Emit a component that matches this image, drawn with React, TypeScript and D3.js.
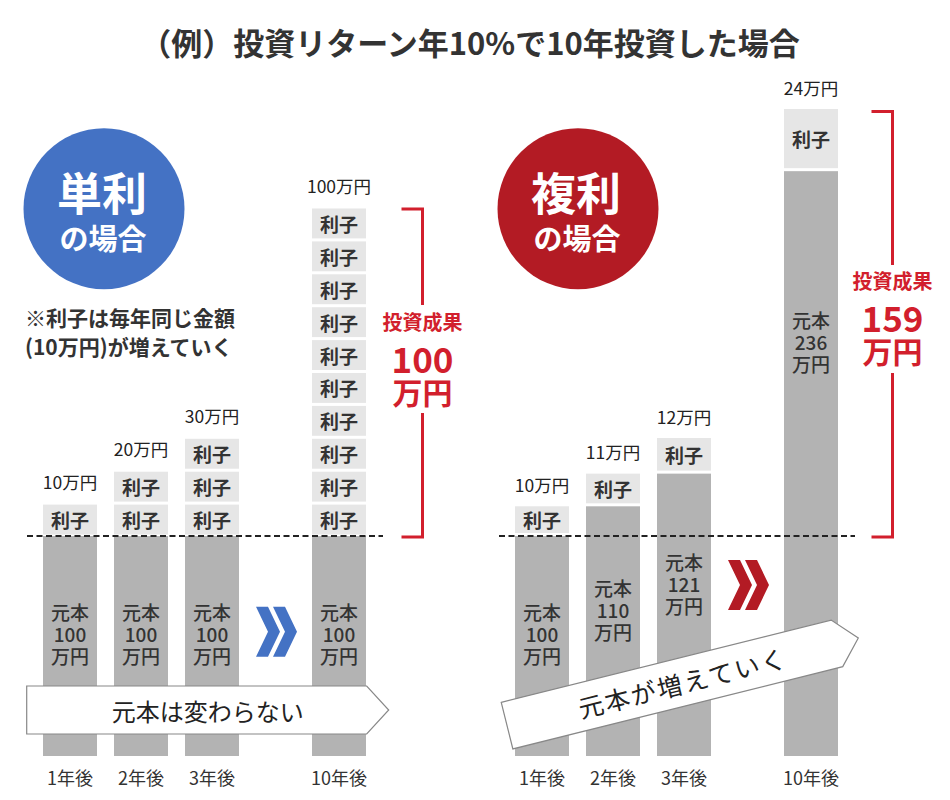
import React from "react";
import * as d3 from "d3";

// ---- data ----
const title = "（例）投資リターン年10%で10年投資した場合";
const yearIndex = [1, 2, 3, 10];
const yearLabels = ["1年後", "2年後", "3年後", "10年後"];
const simplePrincipal = [100, 100, 100, 100];
const simpleInterest = [10, 20, 30, 100];
const compoundPrincipal = [100, 110, 121, 236];
const compoundInterest = [10, 11, 12, 24];
const interestUnit = 10;
const simpleGain = 100;
const compoundGain = 159;
const simpleNote = ["※利子は毎年同じ金額", "(10万円)が増えていく"];
const simpleTitle = ["単利", "の場合"];
const compoundTitle = ["複利", "の場合"];
const simpleArrowText = "元本は変わらない";
const compoundArrowText = "元本が増えていく";

// ---- style ----
const FONT = "'Noto Sans CJK JP', 'Noto Sans', sans-serif";
const BLUE = "#4472c4";
const DARKRED = "#b31b24";
const RED = "#d21f2d";
const LIGHT = "#e6e6e6";
const GRAY = "#b3b3b3";
const TXT = "#333";

const W = 950;
const H = 800;
const barW = 54;

const xSimple = d3.scaleLinear().domain([1, 3, 10]).range([70, 212, 339]);
const xCompound = d3.scaleLinear().domain([1, 3, 10]).range([542, 684, 811]);
const ySimple = d3.scaleLinear().domain([0, 100, 200]).range([756, 536, 207]);
const yCompound = d3.scaleLinear().domain([0, 100, 133, 260]).range([756, 536, 438, 109]);

const arrowPath = (w: number, h: number, tip: number) =>
  `M${-w / 2},${-h / 2}L${w / 2},${-h / 2}L${w / 2 + tip},0L${w / 2},${h / 2}L${-w / 2},${h / 2}Z`;

function Chevrons({ cx, cy, color }: { cx: number; cy: number; color: string }) {
  const h = 50, t = 12, d = 12, step = 17;
  const total = step + t + d;
  return (
    <g>
      {[0, 1].map((i) => {
        const ox = cx - total / 2 + i * step;
        const pts = [
          [ox, cy - h / 2],
          [ox + t, cy - h / 2],
          [ox + t + d, cy],
          [ox + t, cy + h / 2],
          [ox, cy + h / 2],
          [ox + d, cy],
        ];
        return <polygon key={i} points={pts.map((p) => p.join(",")).join(" ")} fill={color} />;
      })}
    </g>
  );
}

function PrincipalLabel({ x, top, value }: { x: number; top: number; value: number }) {
  const h = 756 - top;
  const cy = top + 0.2 * h + 53;
  const lines = ["元本", String(value), "万円"];
  return (
    <g>
      {lines.map((s, i) => (
        <text key={i} x={x} y={cy + (i - 1) * 22} textAnchor="middle" dominantBaseline="central"
          fontSize={19} fontWeight={500} fill={TXT} fontFamily={FONT}>{s}</text>
      ))}
    </g>
  );
}

function InterestBox({ x, y0, y1 }: { x: number; y0: number; y1: number }) {
  return (
    <g>
      <rect x={x - barW / 2} y={y0} width={barW} height={y1 - y0} fill={LIGHT} />
      <text x={x} y={(y0 + y1) / 2} textAnchor="middle" dominantBaseline="central"
        fontSize={19} fontWeight={700} fill={TXT} fontFamily={FONT}>利子</text>
    </g>
  );
}

function Bracket({ x, top, bottom, gapTop, gapBottom, textY, gain }: any) {
  const arm = 21;
  return (
    <g>
      <path d={`M${x - arm},${top}H${x}V${gapTop}`} fill="none" stroke={RED} strokeWidth={3} />
      <path d={`M${x},${gapBottom}V${bottom}H${x - arm}`} fill="none" stroke={RED} strokeWidth={3} />
      <text x={x} y={textY - 36} textAnchor="middle" dominantBaseline="central" fontSize={20}
        fontWeight={700} fill={RED} fontFamily={FONT}>投資成果</text>
      <text x={x} y={textY} textAnchor="middle" dominantBaseline="central" fontSize={35}
        fontWeight={700} fill={RED} fontFamily={FONT}>{gain}</text>
      <text x={x} y={textY + 33} textAnchor="middle" dominantBaseline="central" fontSize={30}
        fontWeight={700} fill={RED} fontFamily={FONT}>万円</text>
    </g>
  );
}

function Badge({ cx, cy, color, lines }: { cx: number; cy: number; color: string; lines: string[] }) {
  return (
    <g>
      <circle cx={cx} cy={cy} r={80.5} fill={color} />
      <text x={cx - 2} y={cy - 17} textAnchor="middle" dominantBaseline="central" fontSize={45}
        fontWeight={700} fill="#fff" fontFamily={FONT}>{lines[0]}</text>
      <text x={cx - 1} y={cy + 28} textAnchor="middle" dominantBaseline="central" fontSize={29}
        fontWeight={700} fill="#fff" fontFamily={FONT}>{lines[1]}</text>
    </g>
  );
}

export default function App() {
  const base = ySimple(100);

  const simpleBars = yearIndex.map((yi, i) => {
    const x = xSimple(yi);
    const top = ySimple(simplePrincipal[i]);
    const n = simpleInterest[i] / interestUnit;
    const boxes = d3.range(n).map((k) => {
      const v0 = simplePrincipal[i] + k * interestUnit;
      return <InterestBox key={k} x={x} y0={ySimple(v0 + interestUnit) + 1.5} y1={ySimple(v0) - 1.5} />;
    });
    const total = simplePrincipal[i] + simpleInterest[i];
    return (
      <g key={i}>
        <rect x={x - barW / 2} y={top} width={barW} height={756 - top} fill={GRAY} />
        {boxes}
        <text x={x} y={ySimple(total) - 22} textAnchor="middle" dominantBaseline="central" fontSize={17.5}
          fill="#222" fontFamily={FONT}>{`${simpleInterest[i]}万円`}</text>
        <text x={x} y={777} textAnchor="middle" dominantBaseline="central" fontSize={18}
          fill={TXT} fontFamily={FONT}>{yearLabels[i]}</text>
      </g>
    );
  });

  const compoundBars = yearIndex.map((yi, i) => {
    const x = xCompound(yi);
    const top = yCompound(compoundPrincipal[i]);
    const total = compoundPrincipal[i] + compoundInterest[i];
    return (
      <g key={i}>
        <rect x={x - barW / 2} y={top} width={barW} height={756 - top} fill={GRAY} />
        <InterestBox x={x} y0={yCompound(total)} y1={top - 3} />
        <text x={x} y={yCompound(total) - 22} textAnchor="middle" dominantBaseline="central" fontSize={17.5}
          fill="#222" fontFamily={FONT}>{`${compoundInterest[i]}万円`}</text>
        <text x={x} y={777} textAnchor="middle" dominantBaseline="central" fontSize={18}
          fill={TXT} fontFamily={FONT}>{yearLabels[i]}</text>
      </g>
    );
  });

  const simpleLabels = yearIndex.map((yi, i) => (
    <PrincipalLabel key={i} x={xSimple(yi)} top={ySimple(simplePrincipal[i])} value={simplePrincipal[i]} />
  ));
  const compoundLabels = yearIndex.map((yi, i) => (
    <PrincipalLabel key={i} x={xCompound(yi)} top={yCompound(compoundPrincipal[i])} value={compoundPrincipal[i]} />
  ));

  const lastS = yearIndex.length - 1;
  const sTop = ySimple(simplePrincipal[lastS] + simpleInterest[lastS]);
  const cTop = yCompound(compoundPrincipal[lastS] + compoundInterest[lastS]);

  return (
    <svg width={W} height={H} style={{ position: "absolute", left: 0, top: 0, background: "#fff" }}>
      <rect width={W} height={H} fill="#fff" />
      <text x={470} y={41} textAnchor="middle" dominantBaseline="central" fontSize={31} fontWeight={700}
        fill="#333" fontFamily={FONT}>{title}</text>

      <Badge cx={104} cy={208.7} color={BLUE} lines={simpleTitle} />
      <Badge cx={578} cy={208.7} color={DARKRED} lines={compoundTitle} />

      {simpleNote.map((s, i) => (
        <text key={i} x={25} y={317 + i * 29} dominantBaseline="central" fontSize={21} fontWeight={700}
          fill={TXT} fontFamily={FONT}>{s}</text>
      ))}

      {simpleBars}
      {compoundBars}
      {simpleLabels}
      {compoundLabels}

      <line x1={27} x2={383} y1={base} y2={base} stroke="#222" strokeWidth={2} strokeDasharray="6 3.5" />
      <line x1={499} x2={855} y1={yCompound(100)} y2={yCompound(100)} stroke="#222" strokeWidth={2}
        strokeDasharray="6 3.5" />

      <Bracket x={422.5} top={sTop + 2} bottom={base + 1} gapTop={305} gapBottom={413} textY={357.5} gain={simpleGain} />
      <Bracket x={892.5} top={cTop + 2.5} bottom={base + 1} gapTop={265} gapBottom={373} textY={316.7} gain={compoundGain} />

      <Chevrons cx={(xSimple(3) + xSimple(10)) / 2 + 1} cy={631.7} color={BLUE} />
      <Chevrons cx={(xCompound(3) + xCompound(10)) / 2 + 1} cy={585} color={DARKRED} />

      <g transform="translate(196.7,710)">
        <path d={arrowPath(340, 48, 22)} fill="#fff" stroke="#888" strokeWidth={1.2} />
        <text x={11} y={0} textAnchor="middle" dominantBaseline="central" fontSize={24}
          fill="#222" fontFamily={FONT}>{simpleArrowText}</text>
      </g>
      <g transform="translate(672,684.5) rotate(-14)">
        <path d={arrowPath(340, 48, 22)} fill="#fff" stroke="#888" strokeWidth={1.2} />
        <text x={11} y={0} textAnchor="middle" dominantBaseline="central" fontSize={25}
          letterSpacing={2} fill="#222" fontFamily={FONT}>{compoundArrowText}</text>
      </g>
    </svg>
  );
}
